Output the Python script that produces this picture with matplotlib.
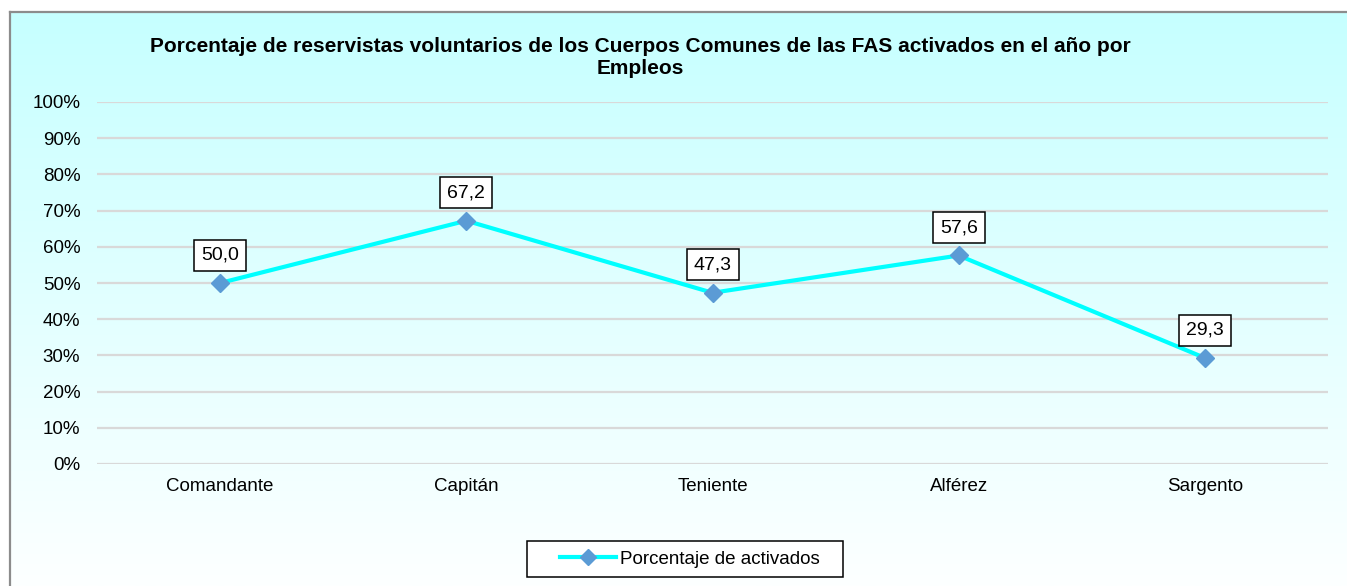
import numpy as np
import matplotlib
matplotlib.use("Agg")
from matplotlib import pyplot as plt
from matplotlib.lines import Line2D
from matplotlib.patches import Rectangle

plt.rcParams['font.family'] = ['Liberation Sans', 'DejaVu Sans']

# datos
empleos = ['Comandante', 'Capitán', 'Teniente', 'Alférez', 'Sargento']
porcentajes = [50.0, 67.2, 47.3, 57.6, 29.3]
yticks = [0, 10, 20, 30, 40, 50, 60, 70, 80, 90, 100]
titulo = ('Porcentaje de reservistas voluntarios de los Cuerpos Comunes de las FAS activados en el año por\n'
          'Empleos')
serie = 'Porcentaje de activados'

W, H = 1347, 586
fig = plt.figure(figsize=(W / 100, H / 100), dpi=100)

# fondo degradado del grafico
bg = fig.add_axes([10 / W, 0, 1 - 10 / W, 1 - 12 / H], zorder=0)
top = np.array([198, 255, 255]) / 255
bot = np.array([253, 255, 255]) / 255
t = np.linspace(0, 1, 256)[:, None]
grad = top * (1 - t) + bot * t
bg.imshow(grad[:, None, :], aspect='auto', extent=[0, 1, 0, 1])
bg.set_xlim(0, 1)
bg.set_ylim(0, 1)
bg.axis('off')
fig.add_artist(Line2D([10 / W, 10 / W], [0, 1 - 12 / H], color='#8c8c8c', lw=1.6))
fig.add_artist(Line2D([10 / W, 1], [1 - 12 / H, 1 - 12 / H], color='#8c8c8c', lw=1.6))

ax = fig.add_axes([97 / W, 1 - 464 / H, (1328 - 97) / W, (464 - 102) / H], zorder=1)
ax.patch.set_alpha(0)
x = np.arange(len(empleos))
ax.plot(x, porcentajes, color='#00FFFF', lw=3, marker='D', ms=9,
        mfc='#5B9BD5', mec='#5B9BD5', zorder=3)

for xi, v in zip(x, porcentajes):
    ax.annotate(f'{v:.1f}'.replace('.', ','), (xi, v), xytext=(0, 20),
                textcoords='offset points', ha='center', va='center', fontsize=14,
                bbox=dict(boxstyle='square,pad=0.36', fc='white', ec='black', lw=1.1))

ax.set_xlim(-0.5, len(empleos) - 0.5)
ax.set_ylim(0, 100)
ax.set_yticks(yticks)
ax.set_yticklabels([f'{v}%' for v in yticks])
ax.set_xticks(x)
ax.set_xticklabels(empleos)
ax.tick_params(axis='both', length=0, labelsize=13.5)
ax.tick_params(axis='y', pad=12)
ax.tick_params(axis='x', pad=10)
ax.yaxis.grid(True, color='#D9D9D9', lw=1.6)
ax.set_axisbelow(True)
for s in ax.spines.values():
    s.set_visible(False)

fig.text(640 / W, 1 - 57 / H, titulo, ha='center', va='center', fontsize=15,
         fontweight='bold', linespacing=1.2)

# leyenda con recuadro propio
fig.add_artist(Rectangle((527 / W, 1 - 577 / H), (843 - 527) / W, 36 / H,
                         fc='white', ec='black', lw=1.1, zorder=2))
h = Line2D([], [], color='#00FFFF', lw=3, marker='D', ms=8, mfc='#5B9BD5', mec='#5B9BD5')
leg = fig.legend([h], [serie], loc='center', bbox_to_anchor=(690 / W, 1 - 559 / H),
                 frameon=False, fontsize=13.5, handlelength=3.0,
                 borderpad=0.3, handletextpad=0.2)
leg.set_zorder(3)

fig.savefig('out.png', dpi=100)
